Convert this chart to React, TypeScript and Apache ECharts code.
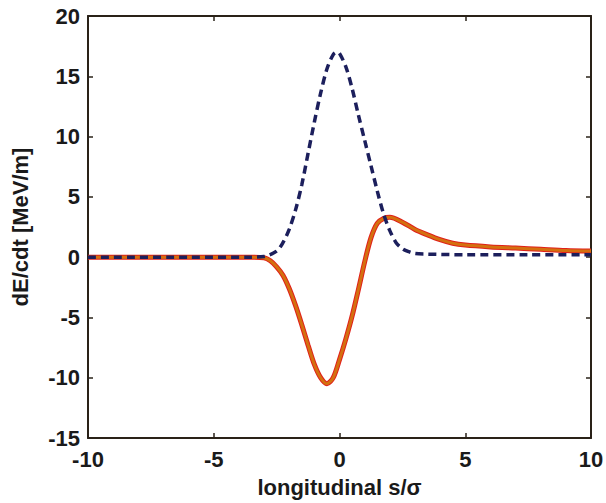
import React, { useEffect, useRef } from "react";
import * as echarts from "echarts";

// Dashed curve (navy): longitudinal s/σ and dE/cdt [MeV/m]
const dashedS = [-10, -6, -3.5, -3, -2.5, -2.25, -2, -1.75, -1.5, -1.25, -1, -0.75, -0.5, -0.25, -0.1, 0, 0.25, 0.5, 0.75, 1, 1.25, 1.5, 1.75, 2, 2.25, 2.5, 2.75, 3, 3.5, 5, 7.5, 10];
const dashedE = [0, 0, 0, 0.05, 0.5, 1.2, 2.3, 3.9, 6.0, 8.6, 11.2, 13.6, 15.6, 16.8, 17.0, 16.9, 15.8, 14.0, 11.8, 9.7, 7.6, 5.5, 3.6, 2.2, 1.2, 0.7, 0.45, 0.3, 0.25, 0.2, 0.2, 0.2];

// Solid curve (orange/red)
const solidS = [-10, -6, -3.5, -3, -2.75, -2.5, -2.25, -2, -1.75, -1.5, -1.25, -1, -0.75, -0.5, -0.25, 0, 0.25, 0.5, 0.75, 1, 1.25, 1.5, 1.75, 2, 2.5, 3, 3.5, 4, 4.5, 5, 6, 7, 8, 9, 10];
const solidE = [0, 0, 0, -0.05, -0.3, -0.8, -1.5, -2.6, -4.0, -5.6, -7.3, -8.9, -10.0, -10.5, -10.0, -8.5, -6.8, -4.9, -2.7, -0.4, 1.6, 2.8, 3.2, 3.3, 2.9, 2.3, 1.85, 1.45, 1.15, 1.0, 0.85, 0.75, 0.65, 0.55, 0.5];

const xTicks = { min: -10, max: 10, interval: 5 };
const yTicks = { min: -15, max: 20, interval: 5 };

const xName = "longitudinal s/σ";
const yName = "dE/cdt [MeV/m]";

const FONT = "'Liberation Sans', Arial, sans-serif";
const AXIS_COLOR = "#2a2218";

export default function App() {
  const ref = useRef<HTMLDivElement>(null);
  useEffect(() => {
    if (!ref.current) return;
    const chart = echarts.init(ref.current, undefined, { renderer: "svg" });
    const dashed = dashedS.map((s, i) => [s, dashedE[i]]);
    const solid = solidS.map((s, i) => [s, solidE[i]]);
    const labelStyle = {
      color: "#1a1a1a",
      fontFamily: FONT,
      fontWeight: "bold" as const,
      fontSize: 22,
    };
    const baseAxis = {
      type: "value" as const,
      axisLine: { show: true, onZero: false, lineStyle: { color: AXIS_COLOR, width: 2 } },
      axisTick: { show: true, inside: true, length: 5, lineStyle: { color: AXIS_COLOR, width: 1.5 } },
      splitLine: { show: false },
    };
    const lineCommon = {
      type: "line" as const,
      showSymbol: false,
      smooth: 0.3,
    };
    chart.setOption({
      animation: false,
      backgroundColor: "#ffffff",
      grid: { left: 88, right: 15, top: 16, bottom: 65, outerBoundsMode: "none" },
      xAxis: [
        {
          ...baseAxis,
          ...xTicks,
          position: "bottom",
          axisLabel: { ...labelStyle, margin: 10 },
          name: xName,
          nameLocation: "middle",
          nameGap: 38,
          nameTextStyle: { ...labelStyle },
        },
        {
          ...baseAxis,
          ...xTicks,
          position: "top",
          axisLabel: { show: false },
        },
      ],
      yAxis: [
        {
          ...baseAxis,
          ...yTicks,
          position: "left",
          axisLabel: { ...labelStyle, margin: 8 },
          name: yName,
          nameLocation: "middle",
          nameGap: 57,
          nameRotate: 90,
          nameTextStyle: { ...labelStyle },
        },
        {
          ...baseAxis,
          ...yTicks,
          position: "right",
          axisLabel: { show: false },
        },
      ],
      series: [
        {
          ...lineCommon,
          data: solid,
          lineStyle: { color: "#e0201a", width: 5 },
          z: 2,
        },
        {
          ...lineCommon,
          data: solid,
          lineStyle: { color: "#d4700f", width: 3 },
          z: 3,
        },
        {
          ...lineCommon,
          data: dashed,
          lineStyle: { color: "#1c1f5c", width: 3.5, type: [8, 5] },
          z: 4,
        },
      ],
    });
    return () => chart.dispose();
  }, []);
  return (
    <div
      ref={ref}
      style={{ position: "fixed", left: 0, top: 0, width: 606, height: 503, background: "#fff" }}
    />
  );
}
